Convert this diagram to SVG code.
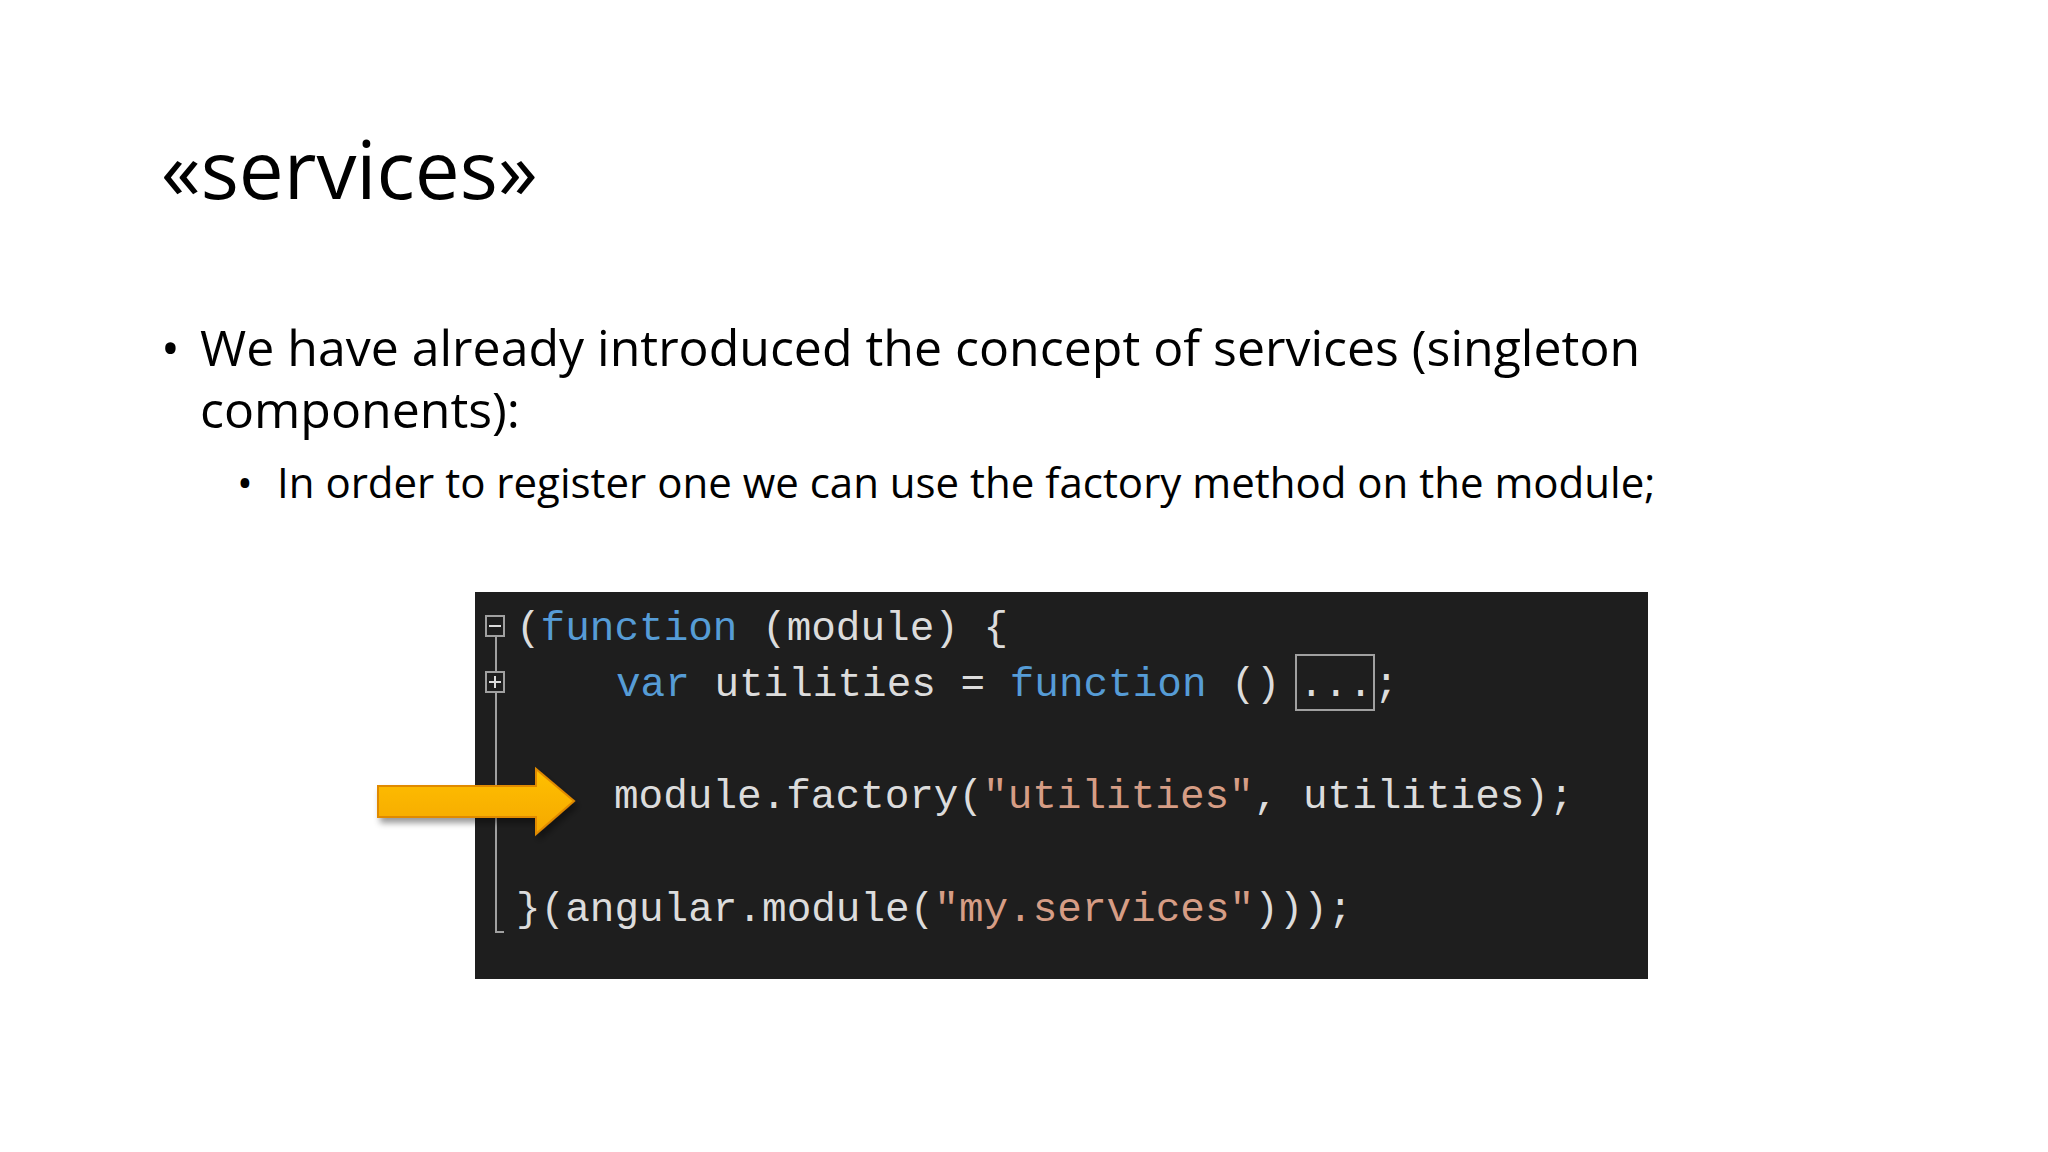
<svg xmlns="http://www.w3.org/2000/svg" width="2048" height="1152" viewBox="0 0 2048 1152">
<defs>
<style>
.t{font-family:"Open Sans","Liberation Sans",sans-serif;fill:#000}
.c{font-family:"Liberation Mono",monospace;font-size:41px;fill:#DCDCDC}
.k{fill:#569CD6}.s{fill:#D69D85}
</style>
<linearGradient id="g" x1="0" y1="0" x2="0" y2="1"><stop offset="0" stop-color="#FFC000"/><stop offset="1" stop-color="#F5A800"/></linearGradient>
<filter id="sh" x="-20%" y="-20%" width="150%" height="160%"><feDropShadow dx="3" dy="5" stdDeviation="3" flood-color="#000" flood-opacity="0.4"/></filter>
</defs>
<rect width="2048" height="1152" fill="#fff"/>
<g id="title"><text class="t" x="161" y="199" font-size="80">«services»</text></g>
<g id="bullets">
<text class="t" x="161" y="366" font-size="50">•</text>
<text class="t" x="200" y="366" font-size="50">We have already introduced the concept of services (singleton</text>
<text class="t" x="200" y="428" font-size="50">components):</text>
<text class="t" x="237" y="498" font-size="42">•</text>
<text class="t" x="277" y="498" font-size="42">In order to register one we can use the factory method on the module;</text>
</g>
<g id="code">
<rect x="475" y="592" width="1173" height="387" fill="#1E1E1E"/>
<g stroke="#A0A0A0" stroke-width="2" fill="none">
<rect x="486" y="616" width="18" height="20"/>
<rect x="486" y="672" width="18" height="20"/>
<path d="M496 636V672M496 692V932H504"/>
<rect x="1296" y="655" width="78" height="55"/>
</g>
<path d="M489 626H501" stroke="#DCDCDC" stroke-width="2"/>
<path d="M489 682H501M495 676V688" stroke="#DCDCDC" stroke-width="2"/>
<text class="c" x="516" y="640">(<tspan class="k">function</tspan> (module) {</text>
<text class="c" x="616" y="696"><tspan class="k">var</tspan> utilities = <tspan class="k">function</tspan> ()<tspan x="1299">...</tspan><tspan x="1374">;</tspan></text>
<text class="c" x="614" y="808">module.factory(<tspan class="s">"utilities"</tspan>, utilities);</text>
<text class="c" x="516" y="921">}(angular.module(<tspan class="s">"my.services"</tspan>)));</text>
</g>
<g id="arrow"><path d="M378 786H536V769L574 801L536 834V817H378Z" fill="url(#g)" stroke="#E08A00" stroke-width="2" filter="url(#sh)"/></g>
</svg>
